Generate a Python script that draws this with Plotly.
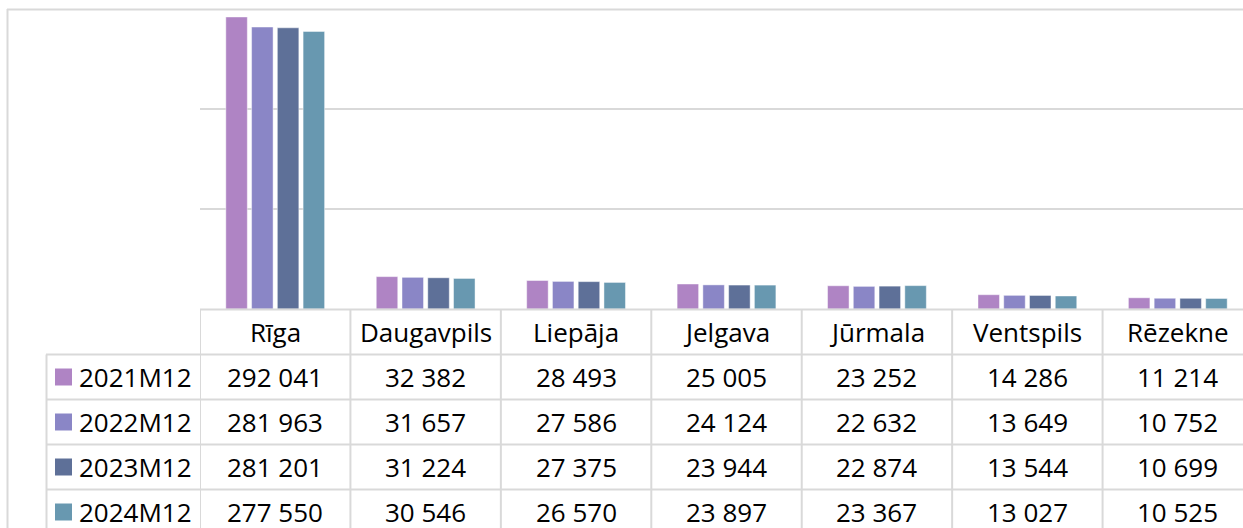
import plotly.graph_objects as go

cities = ["Rīga", "Daugavpils", "Liepāja", "Jelgava", "Jūrmala", "Ventspils", "Rēzekne"]
series_names = ["2021M12", "2022M12", "2023M12", "2024M12"]
v2021 = [292041, 32382, 28493, 25005, 23252, 14286, 11214]
v2022 = [281963, 31657, 27586, 24124, 22632, 13649, 10752]
v2023 = [281201, 31224, 27375, 23944, 22874, 13544, 10699]
v2024 = [277550, 30546, 26570, 23897, 23367, 13027, 10525]
series_values = [v2021, v2022, v2023, v2024]
colors = ["#AF84C4", "#8A86C6", "#5E7098", "#6898B0"]

W, H = 1243, 528
L, T, B = 200, 9, 219
PW = W - L
PH = H - T - B

def xp(px):
    return (px - L) / PW

def yp(py):
    return (H - B - py) / PH

FONT = "Open Sans"
FS = 26
GRID = "#D9D9D9"

fig = go.Figure()
xs = list(range(len(cities)))
for name, vals, c in zip(series_names, series_values, colors):
    fig.add_trace(go.Bar(
        x=xs, y=vals, name=name,
        marker=dict(color=c, line=dict(color="rgba(255,255,255,0.45)", width=1)),
        showlegend=False, hoverinfo="y+name",
    ))

cat_w = 150.43
xmax = -0.5 + PW / cat_w

shapes = []
# outer chart border (left and top)
shapes.append(dict(type="line", xref="paper", yref="paper", x0=xp(7), x1=xp(W + 5), y0=yp(9.5), y1=yp(9.5),
                   line=dict(color=GRID, width=2)))
shapes.append(dict(type="line", xref="paper", yref="paper", x0=xp(7.5), x1=xp(7.5), y0=yp(9), y1=yp(H + 5),
                   line=dict(color=GRID, width=2)))

row_top = [309.5, 354.5, 399.5, 444.5, 489.5]
shapes.append(dict(type="line", xref="paper", yref="paper", x0=xp(200), x1=xp(W + 5), y0=yp(309.5), y1=yp(309.5),
                   line=dict(color=GRID, width=2)))
for r in row_top[1:]:
    shapes.append(dict(type="line", xref="paper", yref="paper", x0=xp(46), x1=xp(W + 5), y0=yp(r), y1=yp(r),
                       line=dict(color=GRID, width=2)))
shapes.append(dict(type="line", xref="paper", yref="paper", x0=xp(46.5), x1=xp(46.5), y0=yp(354.5), y1=yp(H + 5),
                   line=dict(color=GRID, width=2)))
for i in range(len(cities)):
    shapes.append(dict(type="line", xref="x", yref="paper", x0=i - 0.5, x1=i - 0.5, y0=yp(309.5), y1=yp(H + 5),
                       line=dict(color=GRID, width=2)))

annotations = []
header_c = 332
row_c = [377, 422, 467, 512]
for i, c in enumerate(cities):
    annotations.append(dict(x=i, y=yp(header_c), xref="x", yref="paper", text=c, showarrow=False,
                            font=dict(family=FONT, size=FS, color="#000000"), xanchor="center", yanchor="middle"))
for k, (name, vals, col) in enumerate(zip(series_names, series_values, colors)):
    yc = row_c[k]
    shapes.append(dict(type="rect", xref="paper", yref="paper", x0=xp(55), x1=xp(72), y0=yp(yc - 8.5), y1=yp(yc + 8.5),
                       fillcolor=col, line=dict(width=0)))
    annotations.append(dict(x=xp(77), y=yp(yc), xref="paper", yref="paper", text=name, showarrow=False,
                            font=dict(family=FONT, size=FS, color="#000000"), xanchor="left", yanchor="middle"))
    for i, v in enumerate(vals):
        annotations.append(dict(x=i, y=yp(yc), xref="x", yref="paper", text=f"{v:,}".replace(",", " "),
                                showarrow=False, font=dict(family=FONT, size=FS, color="#000000"),
                                xanchor="center", yanchor="middle"))

fig.update_layout(
    width=W, height=H,
    margin=dict(l=L, r=0, t=T, b=B, pad=0),
    paper_bgcolor="white", plot_bgcolor="white",
    barmode="group", bargap=0.315, bargroupgap=0.165,
    xaxis=dict(range=[-0.5, xmax], showticklabels=False, showgrid=False, zeroline=False, showline=False,
               fixedrange=True),
    yaxis=dict(range=[0, 300000], dtick=100000, showticklabels=False, showgrid=True, gridcolor=GRID,
               gridwidth=1.5, zeroline=False, showline=False, fixedrange=True),
    shapes=shapes, annotations=annotations,
    font=dict(family=FONT),
)

fig.write_html("out.html", config={"displayModeBar": False},
               post_script="document.body.style.margin='0';document.body.style.overflow='hidden';")
